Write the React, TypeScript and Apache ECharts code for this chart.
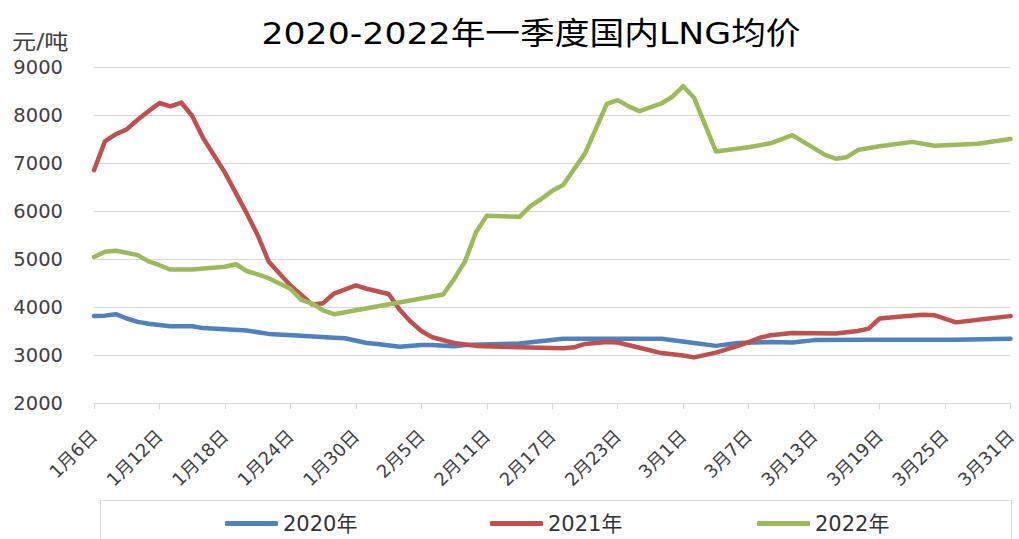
import React, { useEffect, useRef } from "react";
import * as echarts from "echarts";

const FONT = '"DejaVu Sans", "Noto Sans CJK SC", sans-serif';
const TITLE = "2020-2022年一季度国内LNG均价";
const Y_UNIT = "元/吨";

// month label, first day, last day shown on the axis
const MONTHS: [string, number, number][] = [
  ["1月", 6, 31],
  ["2月", 1, 28],
  ["3月", 1, 31],
];
const categories: string[] = [];
MONTHS.forEach(([m, s, e]) => {
  for (let d = s; d <= e; d++) categories.push(`${m}${d}日`);
});

const seriesNames = ["2020年", "2021年", "2022年"];
const seriesColors = ["#4F81BD", "#C0504D", "#9BBB59"];

const price2020: [string, number][] = [
  ["1月6日", 3810], ["1月7日", 3820], ["1月8日", 3850], ["1月9日", 3760], ["1月10日", 3690],
  ["1月11日", 3650], ["1月13日", 3600], ["1月15日", 3600], ["1月16日", 3560], ["1月20日", 3510],
  ["1月22日", 3440], ["1月25日", 3400], ["1月28日", 3360], ["1月29日", 3350], ["1月31日", 3250],
  ["2月1日", 3230], ["2月3日", 3170], ["2月5日", 3210], ["2月6日", 3210], ["2月8日", 3180],
  ["2月9日", 3210], ["2月14日", 3240], ["2月18日", 3340], ["2月27日", 3340], ["3月2日", 3250],
  ["3月4日", 3190], ["3月6日", 3250], ["3月9日", 3270], ["3月11日", 3260], ["3月13日", 3310],
  ["3月18日", 3320], ["3月26日", 3320], ["3月31日", 3340],
];

const price2021: [string, number][] = [
  ["1月6日", 6850], ["1月7日", 7450], ["1月8日", 7600], ["1月9日", 7700], ["1月10日", 7900],
  ["1月11日", 8080], ["1月12日", 8250], ["1月13日", 8180], ["1月14日", 8260], ["1月15日", 7980],
  ["1月16日", 7520], ["1月18日", 6800], ["1月20日", 5950], ["1月21日", 5500], ["1月22日", 4950],
  ["1月23日", 4700], ["1月24日", 4450], ["1月25日", 4250], ["1月26日", 4050], ["1月27日", 4080],
  ["1月28日", 4280], ["1月30日", 4450], ["1月31日", 4380], ["2月2日", 4270], ["2月3日", 3950],
  ["2月4日", 3700], ["2月5日", 3500], ["2月6日", 3370], ["2月8日", 3250], ["2月10日", 3190],
  ["2月14日", 3160], ["2月18日", 3140], ["2月19日", 3160], ["2月20日", 3230], ["2月22日", 3270],
  ["2月23日", 3260], ["2月25日", 3150], ["2月27日", 3040], ["3月1日", 2990], ["3月2日", 2950],
  ["3月4日", 3050], ["3月6日", 3190], ["3月7日", 3270], ["3月8日", 3360], ["3月9日", 3410],
  ["3月11日", 3460], ["3月15日", 3450], ["3月17日", 3500], ["3月18日", 3550], ["3月19日", 3760],
  ["3月21日", 3800], ["3月23日", 3840], ["3月24日", 3830], ["3月26日", 3680], ["3月29日", 3760],
  ["3月31日", 3810],
];

const price2022: [string, number][] = [
  ["1月6日", 5040], ["1月7日", 5150], ["1月8日", 5170], ["1月9日", 5130], ["1月10日", 5080],
  ["1月11日", 4950], ["1月12日", 4870], ["1月13日", 4780], ["1月15日", 4780], ["1月18日", 4840],
  ["1月19日", 4890], ["1月20日", 4750], ["1月21日", 4680], ["1月22日", 4600], ["1月24日", 4380],
  ["1月25日", 4150], ["1月26日", 4070], ["1月27日", 3930], ["1月28日", 3850], ["2月7日", 4260],
  ["2月8日", 4580], ["2月9日", 4950], ["2月10日", 5550], ["2月11日", 5900], ["2月14日", 5880],
  ["2月15日", 6100], ["2月16日", 6250], ["2月17日", 6420], ["2月18日", 6540], ["2月20日", 7200],
  ["2月22日", 8230], ["2月23日", 8310], ["2月24日", 8180], ["2月25日", 8080], ["2月27日", 8240],
  ["2月28日", 8380], ["3月1日", 8600], ["3月2日", 8360], ["3月4日", 7240], ["3月7日", 7330],
  ["3月9日", 7410], ["3月11日", 7580], ["3月14日", 7170], ["3月15日", 7090], ["3月16日", 7120],
  ["3月17日", 7270], ["3月19日", 7350], ["3月22日", 7440], ["3月24日", 7360], ["3月28日", 7400],
  ["3月31日", 7500],
];

const seriesData = [price2020, price2021, price2022];
const Y_MIN = 2000;
const Y_MAX = 9000;
const Y_STEP = 1000;
const LABEL_EVERY = 5;
const legendLefts = [225, 490, 757];

export default function App() {
  const ref = useRef<HTMLDivElement>(null);
  useEffect(() => {
    if (!ref.current) return;
    const chart = echarts.init(ref.current, undefined, { renderer: "svg" });
    chart.setOption({
      animation: false,
      backgroundColor: "#ffffff",
      grid: { left: 94, right: 8, top: 67, bottom: 136 },
      graphic: [
        {
          type: "text",
          x: 531,
          y: 33,
          scaleX: 1.12,
          style: {
            text: TITLE,
            fontSize: 31,
            fontFamily: FONT,
            fill: "#000000",
            align: "center",
            verticalAlign: "middle",
          },
        },
        {
          type: "text",
          x: 12,
          y: 42,
          scaleX: 1.15,
          style: {
            text: Y_UNIT,
            fontSize: 21,
            fontFamily: FONT,
            fill: "#404040",
            align: "left",
            verticalAlign: "middle",
          },
        },
        {
          type: "rect",
          z: -10,
          shape: { x: 100.5, y: 500.5, width: 911, height: 60 },
          style: { fill: "none", stroke: "#d9d9d9", lineWidth: 1 },
        },
      ],
      legend: seriesNames.map((n, i) => ({
        data: [n],
        left: legendLefts[i],
        top: 513,
        padding: 0,
        icon: "roundRect",
        itemWidth: 53,
        itemHeight: 5,
        textStyle: { fontSize: 21, fontFamily: FONT, color: "#333333" },
      })),
      xAxis: {
        type: "category",
        boundaryGap: false,
        data: categories,
        axisLine: { show: true, lineStyle: { color: "#d9d9d9", width: 1 } },
        axisTick: {
          show: true,
          interval: LABEL_EVERY,
          length: 6,
          lineStyle: { color: "#d9d9d9" },
        },
        axisLabel: {
          interval: LABEL_EVERY,
          rotate: 45,
          margin: 30,
          fontSize: 18,
          fontFamily: FONT,
          color: "#404040",
        },
        splitLine: { show: false },
      },
      yAxis: {
        type: "value",
        min: Y_MIN,
        max: Y_MAX,
        interval: Y_STEP,
        axisLine: { show: false },
        axisTick: { show: false },
        axisLabel: {
          margin: 31,
          fontSize: 19.5,
          fontFamily: FONT,
          color: "#404040",
          formatter: (v: number) => String(v),
        },
        splitLine: { lineStyle: { color: "#d9d9d9", width: 1 } },
      },
      series: seriesNames.map((n, i) => ({
        name: n,
        type: "line",
        data: seriesData[i],
        symbol: "none",
        smooth: false,
        lineStyle: { color: seriesColors[i], width: 4.5, cap: "round", join: "round" },
        itemStyle: { color: seriesColors[i] },
      })),
    });
    return () => chart.dispose();
  }, []);
  return (
    <div
      ref={ref}
      style={{ position: "fixed", left: 0, top: 0, width: 1019, height: 539 }}
    />
  );
}
